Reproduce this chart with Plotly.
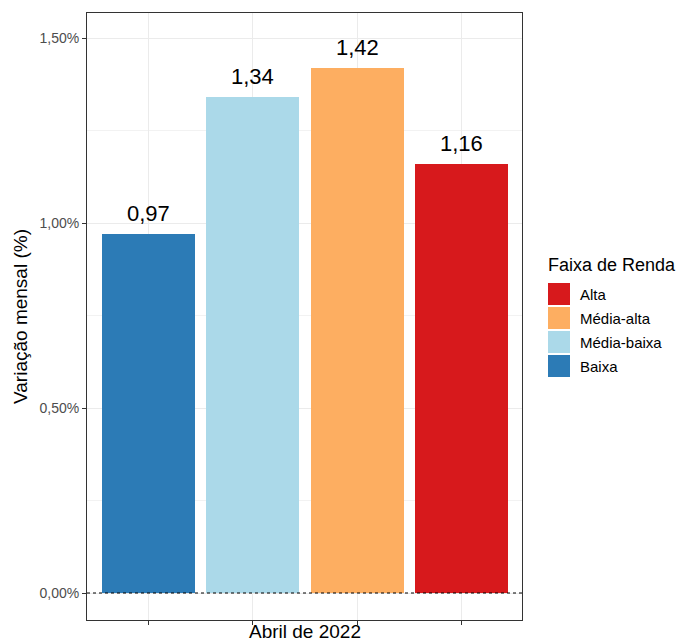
import plotly.graph_objects as go

categories = ["Baixa", "Média-baixa", "Média-alta", "Alta"]
values = [0.97, 1.34, 1.42, 1.16]
colors = ["#2C7BB6", "#ABD9E9", "#FDAE61", "#D7191C"]
y_ticks = [0, 0.5, 1.0, 1.5]
y_tick_labels = ["0,00%", "0,50%", "1,00%", "1,50%"]
x_label = "Abril de 2022"
legend_title = "Faixa de Renda"

OFF = 8  # page body margin
W, H = 689 - OFF, 644 - OFF
L, R, T, B = 87 - OFF, 522 - OFF, 13 - OFF, 620 - OFF  # panel pixel box (figure coords)

def px_x(p):
    return (p - OFF - L) / (R - L)

def px_y(p):
    return (B - (p - OFF)) / (B - T)

FONT = "Liberation Sans, Arial, sans-serif"
positions = list(range(1, len(categories) + 1))

fig = go.Figure()
for pos, cat, val, col in zip(positions, categories, values, colors):
    fig.add_trace(go.Bar(x=[pos], y=[val], name=cat, marker=dict(color=col, line=dict(width=0)),
                         width=0.89, showlegend=False, hoverinfo="name+y"))
    fig.add_annotation(x=pos, y=val, text=f"{val:.2f}".replace(".", ","), showarrow=False,
                       yanchor="bottom", yshift=6, font=dict(size=22, color="black", family=FONT))

fig.add_hline(y=0, line=dict(color="black", width=1, dash="dot"))

# x label
fig.add_annotation(x=0.5, xref="paper", y=px_y(631), yref="paper", text=x_label, showarrow=False,
                   yanchor="middle", font=dict(size=19, color="black", family=FONT))

# legend (manual, ggplot style)
fig.add_annotation(x=px_x(546), xref="paper", y=px_y(265), yref="paper", text=legend_title,
                   showarrow=False, xanchor="left", yanchor="middle",
                   font=dict(size=18, color="black", family=FONT))
for i, (cat, col) in enumerate(reversed(list(zip(categories, colors)))):
    top = 283 + i * 24
    fig.add_shape(type="rect", xref="paper", yref="paper",
                  x0=px_x(548), x1=px_x(570), y0=px_y(top + 22), y1=px_y(top),
                  fillcolor=col, line=dict(width=0))
    fig.add_annotation(x=px_x(578), xref="paper", y=px_y(top + 11), yref="paper", text=cat,
                       showarrow=False, xanchor="left", yanchor="middle",
                       font=dict(size=15, color="black", family=FONT))

fig.update_layout(
    width=W, height=H,
    margin=dict(l=L, r=W - R, t=T, b=H - B),
    plot_bgcolor="white", paper_bgcolor="white",
    font=dict(family=FONT),
    bargap=0,
    xaxis=dict(range=[0.41, 4.58], tickvals=positions, ticktext=[""] * len(positions),
               ticks="outside", ticklen=4, tickcolor="#333333", showgrid=True, gridcolor="#EBEBEB",
               showline=True, mirror=True, linecolor="#333333", linewidth=1, zeroline=False, fixedrange=True),
    yaxis=dict(range=[-0.073, 1.568], tickvals=y_ticks, ticktext=y_tick_labels,
               ticks="outside", ticklen=4, tickcolor="#333333",
               tickfont=dict(size=14, color="#4D4D4D", family=FONT),
               showgrid=True, gridcolor="#EBEBEB",
               minor=dict(tickvals=[0.25, 0.75, 1.25], showgrid=True, gridcolor="#F2F2F2", ticks=""),
               showline=True, mirror=True, linecolor="#333333", linewidth=1, zeroline=False,
               title=dict(text="Variação mensal (%)", font=dict(size=19, color="black", family=FONT), standoff=6)),
)

fig.write_html("out.html")
